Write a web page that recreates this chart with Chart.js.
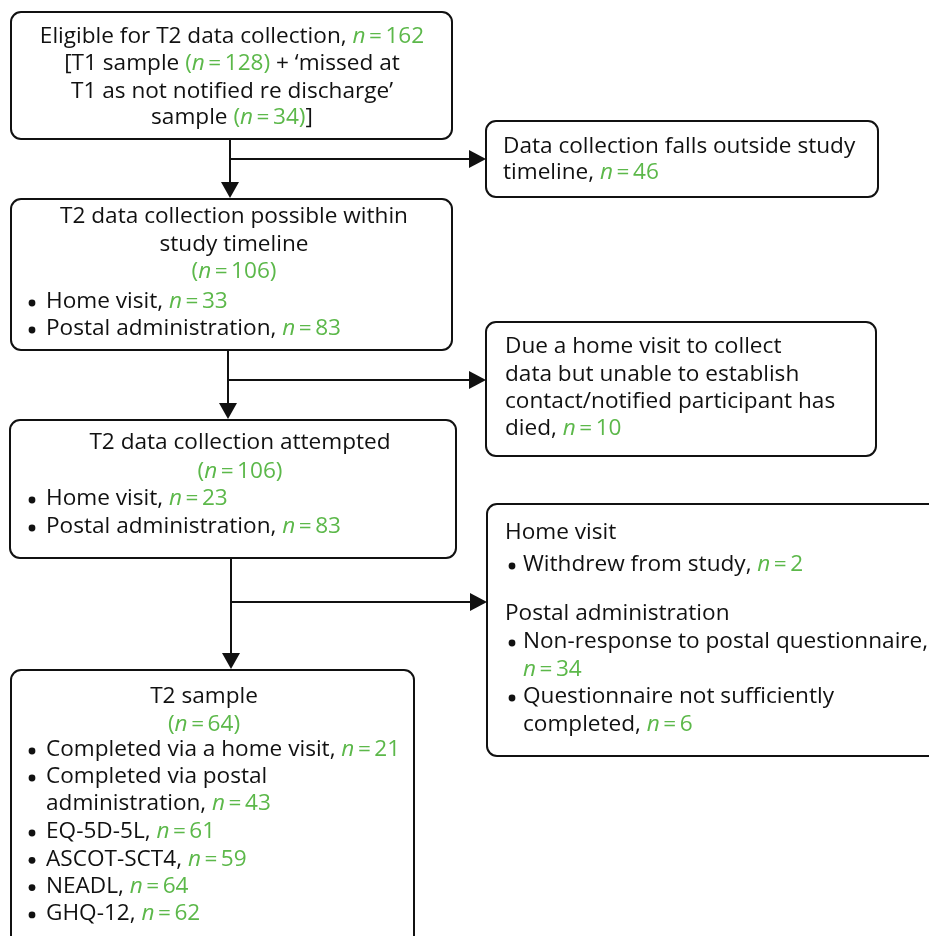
<!DOCTYPE html>
<html>
<head>
<meta charset="utf-8">
<script src="https://cdn.jsdelivr.net/npm/chart.js@4"></script>
<style>
  body { margin: 0; background: #fff; }
  #flow { display: block; }
</style>
</head>
<body>
<canvas id="flow" width="929" height="936"></canvas>
<script>
// numbers
const stageN = [162, 106, 106, 64];          // eligible, possible, attempted, sample
const sourceN = [128, 34];                   // T1 sample, missed at T1
const homeN = [33, 23, 21];                  // home visit: possible, attempted, completed
const postalN = [83, 83, 43];                // postal: possible, attempted, completed
const lostN = [46, 10];                      // outside timeline, died / no contact
const dropN = [2, 34, 6];                    // withdrew, non-response, incomplete
const instruments = ['EQ-5D-5L', 'ASCOT-SCT4', 'NEADL', 'GHQ-12'];
const instrumentN = [61, 59, 64, 62];

const GREEN = '#5cb84a';
const INK = '#111111';
const FONT = '"Open Sans", "Noto Sans", sans-serif';
const SIZE = 22.6;

const N = v => ({ n: v });
const P = v => ({ n: v, paren: true });

// boxes: x0,y0,x1,y1 in diagram units, plus text lines
// line: {y, x, align, bullet, segs}
const boxes = [
  { r: [11, 12, 452, 139], lines: [
    { y: 37, x: 232, align: 'center', segs: ['Eligible for T2 data collection, ', N(stageN[0])] },
    { y: 64, x: 232, align: 'center', segs: ['[T1 sample ', P(sourceN[0]), ' + \u2018missed at'] },
    { y: 92, x: 232, align: 'center', segs: ['T1 as not notified re discharge\u2019'] },
    { y: 118, x: 232, align: 'center', segs: ['sample ', P(sourceN[1]), ']'] }
  ]},
  { r: [11, 199, 452, 350], lines: [
    { y: 217, x: 234, align: 'center', segs: ['T2 data collection possible within'] },
    { y: 245, x: 234, align: 'center', segs: ['study timeline'] },
    { y: 272, x: 234, align: 'center', segs: [P(stageN[1])] },
    { y: 302, x: 46, bullet: 32, segs: ['Home visit, ', N(homeN[0])] },
    { y: 329, x: 46, bullet: 32, segs: ['Postal administration, ', N(postalN[0])] }
  ]},
  { r: [486, 121, 878, 197], lines: [
    { y: 147, x: 503, segs: ['Data collection falls outside study'] },
    { y: 173, x: 503, segs: ['timeline, ', N(lostN[0])] }
  ]},
  { r: [486, 322, 876, 456], lines: [
    { y: 347, x: 505, segs: ['Due a home visit to collect'] },
    { y: 375, x: 505, segs: ['data but unable to establish'] },
    { y: 402, x: 505, segs: ['contact/notified participant has'] },
    { y: 429, x: 505, segs: ['died, ', N(lostN[1])] }
  ]},
  { r: [10, 420, 456, 558], lines: [
    { y: 443, x: 240, align: 'center', segs: ['T2 data collection attempted'] },
    { y: 472, x: 240, align: 'center', segs: [P(stageN[2])] },
    { y: 499, x: 46, bullet: 32, segs: ['Home visit, ', N(homeN[1])] },
    { y: 527, x: 46, bullet: 32, segs: ['Postal administration, ', N(postalN[1])] }
  ]},
  { r: [487, 504, 945, 756], lines: [
    { y: 533, x: 505, segs: ['Home visit'] },
    { y: 565, x: 523, bullet: 512, segs: ['Withdrew from study, ', N(dropN[0])] },
    { y: 614, x: 505, segs: ['Postal administration'] },
    { y: 642, x: 523, bullet: 512, segs: ['Non-response to postal questionnaire,'] },
    { y: 670, x: 523, segs: [N(dropN[1])] },
    { y: 697, x: 523, bullet: 512, segs: ['Questionnaire not sufficiently'] },
    { y: 725, x: 523, segs: ['completed, ', N(dropN[2])] }
  ]},
  { r: [11, 670, 414, 950], lines: [
    { y: 697, x: 204, align: 'center', segs: ['T2 sample'] },
    { y: 725, x: 204, align: 'center', segs: [P(stageN[3])] },
    { y: 750, x: 46, bullet: 32, segs: ['Completed via a home visit, ', N(homeN[2])] },
    { y: 777, x: 46, bullet: 32, segs: ['Completed via postal'] },
    { y: 804, x: 46, segs: ['administration, ', N(postalN[2])] }
  ].concat(instruments.map((name, i) => (
    { y: 832 + i * 27.3, x: 46, bullet: 32, segs: [name + ', ', N(instrumentN[i])] }
  )))}
];

// connectors: trunk x, from y, to y (arrow tip), branch y, branch tip x
const links = [
  { x: 230, y0: 139, y1: 198, by: 159, bx: 486 },
  { x: 228, y0: 350, y1: 419, by: 380, bx: 486 },
  { x: 231, y0: 558, y1: 669, by: 602, bx: 487 }
];

function pieces(segs) {
  const out = [];
  const reg = SIZE + 'px ' + FONT;
  const ita = 'italic ' + SIZE + 'px ' + FONT;
  segs.forEach(s => {
    if (typeof s === 'string') { out.push({ t: s, f: reg, c: INK }); return; }
    if (s.paren) out.push({ t: '(', f: reg, c: GREEN });
    out.push({ t: 'n', f: ita, c: GREEN, gap: 3.5 });
    out.push({ t: '=', f: reg, c: GREEN, gap: 3.5 });
    out.push({ t: String(s.n), f: reg, c: GREEN });
    if (s.paren) out.push({ t: ')', f: reg, c: GREEN });
  });
  return out;
}

function drawLine(ctx, line, X, Y) {
  const ps = pieces(line.segs);
  let w = 0;
  ps.forEach(p => { ctx.font = p.f; p.w = ctx.measureText(p.t).width; w += p.w + (p.gap || 0); });
  let x = X(line.x);
  if (line.align === 'center') x -= w / 2;
  const y = Y(line.y);
  ctx.textBaseline = 'middle';
  ctx.textAlign = 'left';
  ps.forEach(p => {
    ctx.font = p.f;
    ctx.fillStyle = p.c;
    ctx.fillText(p.t, x, y);
    x += p.w + (p.gap || 0);
  });
  if (line.bullet) {
    ctx.fillStyle = INK;
    ctx.beginPath();
    ctx.arc(X(line.bullet), y + 1, 3.4, 0, Math.PI * 2);
    ctx.fill();
  }
}

const flowPlugin = {
  id: 'flow',
  afterDraw(chart) {
    const ctx = chart.ctx;
    const X = v => chart.scales.x.getPixelForValue(v);
    const Y = v => chart.scales.y.getPixelForValue(v);
    ctx.save();
    ctx.strokeStyle = INK;
    ctx.fillStyle = INK;
    ctx.lineWidth = 2;
    boxes.forEach(b => {
      const [x0, y0, x1, y1] = b.r;
      ctx.beginPath();
      ctx.roundRect(X(x0), Y(y0), X(x1) - X(x0), Y(y1) - Y(y0), 10);
      ctx.strokeStyle = INK;
      ctx.stroke();
      b.lines.forEach(l => drawLine(ctx, l, X, Y));
    });
    ctx.strokeStyle = INK;
    ctx.fillStyle = INK;
    links.forEach(k => {
      ctx.beginPath();
      ctx.moveTo(X(k.x), Y(k.y0));
      ctx.lineTo(X(k.x), Y(k.y1) - 14);
      ctx.moveTo(X(k.x), Y(k.by));
      ctx.lineTo(X(k.bx) - 14, Y(k.by));
      ctx.stroke();
      // down arrow
      ctx.beginPath();
      ctx.moveTo(X(k.x) - 9, Y(k.y1) - 16);
      ctx.lineTo(X(k.x) + 9, Y(k.y1) - 16);
      ctx.lineTo(X(k.x), Y(k.y1));
      ctx.closePath();
      ctx.fill();
      // right arrow
      ctx.beginPath();
      ctx.moveTo(X(k.bx) - 17, Y(k.by) - 9);
      ctx.lineTo(X(k.bx) - 17, Y(k.by) + 9);
      ctx.lineTo(X(k.bx), Y(k.by));
      ctx.closePath();
      ctx.fill();
    });
    ctx.restore();
  }
};

new Chart(document.getElementById('flow'), {
  type: 'scatter',
  data: {
    datasets: [{
      data: boxes.map(b => ({ x: b.r[0], y: b.r[1] })),
      pointRadius: 0
    }]
  },
  options: {
    responsive: false,
    animation: false,
    events: [],
    layout: { padding: 0 },
    plugins: { legend: { display: false }, tooltip: { enabled: false } },
    scales: {
      x: { type: 'linear', min: 0, max: 929, display: false },
      y: { type: 'linear', min: 0, max: 936, reverse: true, display: false }
    }
  },
  plugins: [flowPlugin]
});
</script>
</body>
</html>
